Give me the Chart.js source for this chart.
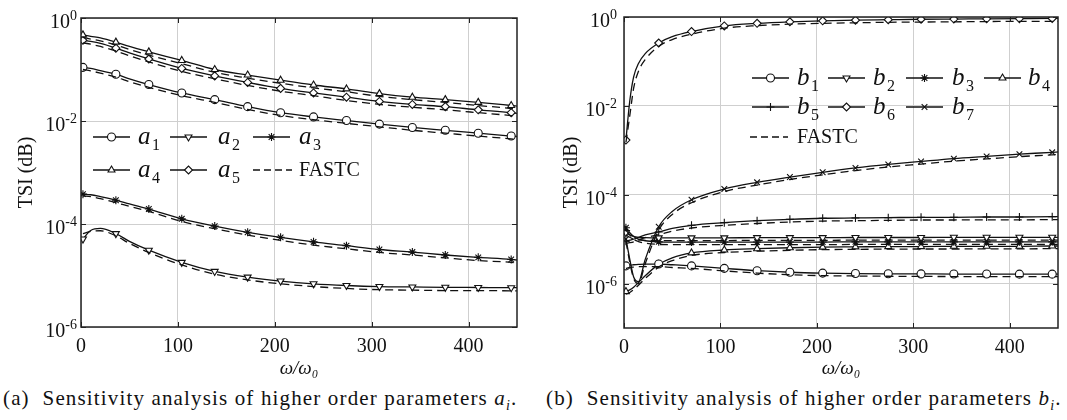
<!DOCTYPE html>
<html>
<head>
<meta charset="utf-8">
<script src="https://cdn.jsdelivr.net/npm/chart.js@4.4.0/dist/chart.umd.min.js"></script>
<style>
  body { margin: 0; background: #fff; width: 1067px; height: 420px; overflow: hidden; position: relative; font-family: 'Liberation Serif', serif; }
  .panel { position: absolute; top: 0; height: 380px; }
  #boxA { left: 0; width: 533px; }
  #boxB { left: 533px; width: 534px; }
  .cap { position: absolute; top: 386px; font-size: 21px; letter-spacing: 1.15px; white-space: nowrap; color: #111; }
  .cap i sub { font-size: 14px; }
</style>
</head>
<body>
<div class="panel" id="boxA"><canvas id="chartA"></canvas></div>
<div class="panel" id="boxB"><canvas id="chartB"></canvas></div>
<div class="cap" style="left:3px">(a)&nbsp; Sensitivity analysis of higher order parameters <i>a<sub>i</sub></i>.</div>
<div class="cap" style="left:546px">(b)&nbsp; Sensitivity analysis of higher order parameters <i>b<sub>i</sub></i>.</div>
<script>
// x positions (omega / omega0)
const xsA = [2, 10, 20, 36, 50, 70, 104, 138, 172, 206, 240, 274, 308, 342, 376, 410, 444, 450];
const xsB = [2, 6, 10, 15, 22, 36, 50, 70, 104, 138, 172, 206, 240, 274, 308, 342, 376, 410, 444, 450];
const markX = [2, 36, 70, 104, 138, 172, 206, 240, 274, 308, 342, 376, 410, 444];

const xTicks = [0, 100, 200, 300, 400];
const xTickLabels = ['0', '100', '200', '300', '400'];
const yTicks = [1e-6, 1e-4, 1e-2, 1];
const yTickExp = ['-6', '-4', '-2', '0'];

// (a) higher order parameters a_i : solid = reference, dashed = FASTC
const a1 = [0.11, 0.105, 0.095, 0.081, 0.066, 0.051, 0.035, 0.026, 0.019, 0.0145, 0.012, 0.0102, 0.0087, 0.0075, 0.0066, 0.0058, 0.0051, 0.005];
const a1F = [0.1, 0.094, 0.085, 0.071, 0.058, 0.045, 0.031, 0.023, 0.0168, 0.0128, 0.0106, 0.009, 0.0077, 0.0066, 0.0058, 0.0051, 0.0045, 0.0044];
const a2 = [5.1e-5, 7.5e-5, 8.2e-5, 6.5e-5, 4.6e-5, 3.1e-5, 1.8e-5, 1.2e-5, 9.3e-6, 7.8e-6, 6.9e-6, 6.4e-6, 6.1e-6, 6.0e-6, 5.9e-6, 5.85e-6, 5.8e-6, 5.8e-6];
const a2F = [6.5e-5, 7.2e-5, 7.4e-5, 5.9e-5, 4.2e-5, 2.8e-5, 1.6e-5, 1.06e-5, 8.2e-6, 6.9e-6, 6.1e-6, 5.6e-6, 5.3e-6, 5.2e-6, 5.1e-6, 5.1e-6, 5.05e-6, 5.05e-6];
const a3 = [3.8e-4, 3.7e-4, 3.4e-4, 2.9e-4, 2.45e-4, 1.95e-4, 1.26e-4, 9.1e-5, 6.9e-5, 5.5e-5, 4.5e-5, 3.8e-5, 3.2e-5, 2.85e-5, 2.5e-5, 2.25e-5, 2.05e-5, 2.0e-5];
const a3F = [3.5e-4, 3.4e-4, 3.1e-4, 2.6e-4, 2.2e-4, 1.75e-4, 1.12e-4, 8.1e-5, 6.1e-5, 4.8e-5, 3.9e-5, 3.3e-5, 2.8e-5, 2.5e-5, 2.2e-5, 1.95e-5, 1.8e-5, 1.75e-5];
const a4 = [0.47, 0.44, 0.41, 0.34, 0.28, 0.22, 0.15, 0.10, 0.078, 0.062, 0.05, 0.042, 0.034, 0.029, 0.026, 0.023, 0.020, 0.0195];
const a4F = [0.42, 0.39, 0.36, 0.30, 0.245, 0.19, 0.13, 0.088, 0.068, 0.054, 0.044, 0.037, 0.03, 0.026, 0.023, 0.020, 0.0175, 0.017];
const a5 = [0.37, 0.35, 0.32, 0.26, 0.21, 0.16, 0.105, 0.075, 0.056, 0.043, 0.035, 0.029, 0.024, 0.021, 0.019, 0.0165, 0.0145, 0.014];
const a5F = [0.33, 0.31, 0.28, 0.23, 0.185, 0.14, 0.092, 0.066, 0.049, 0.038, 0.031, 0.025, 0.021, 0.0185, 0.0165, 0.0145, 0.0127, 0.0123];

// (b) higher order parameters b_i
const b1 = [2.5e-6, 2.6e-6, 2.65e-6, 2.7e-6, 2.75e-6, 2.75e-6, 2.65e-6, 2.5e-6, 2.2e-6, 1.95e-6, 1.8e-6, 1.72e-6, 1.68e-6, 1.66e-6, 1.65e-6, 1.64e-6, 1.64e-6, 1.63e-6, 1.63e-6, 1.63e-6];
const b1F = [2.2e-6, 2.3e-6, 2.35e-6, 2.4e-6, 2.4e-6, 2.4e-6, 2.3e-6, 2.2e-6, 1.93e-6, 1.72e-6, 1.58e-6, 1.51e-6, 1.48e-6, 1.46e-6, 1.45e-6, 1.44e-6, 1.44e-6, 1.43e-6, 1.43e-6, 1.43e-6];
const b2 = [1.4e-5, 1.25e-5, 1.15e-5, 1.1e-5, 1.08e-5, 1.07e-5, 1.07e-5, 1.07e-5, 1.07e-5, 1.08e-5, 1.08e-5, 1.08e-5, 1.09e-5, 1.09e-5, 1.09e-5, 1.1e-5, 1.1e-5, 1.1e-5, 1.1e-5, 1.1e-5];
const b2F = [1.25e-5, 1.1e-5, 1.0e-5, 9.6e-6, 9.4e-6, 9.3e-6, 9.3e-6, 9.3e-6, 9.3e-6, 9.4e-6, 9.4e-6, 9.4e-6, 9.5e-6, 9.5e-6, 9.5e-6, 9.5e-6, 9.5e-6, 9.5e-6, 9.5e-6, 9.5e-6];
const b3 = [1.8e-5, 1.4e-5, 1.15e-5, 1.0e-5, 9.2e-6, 8.7e-6, 8.6e-6, 8.6e-6, 8.6e-6, 8.6e-6, 8.6e-6, 8.6e-6, 8.7e-6, 8.7e-6, 8.7e-6, 8.7e-6, 8.7e-6, 8.7e-6, 8.7e-6, 8.7e-6];
const b3F = [1.6e-5, 1.25e-5, 1.0e-5, 8.8e-6, 8.1e-6, 7.6e-6, 7.5e-6, 7.5e-6, 7.5e-6, 7.5e-6, 7.5e-6, 7.5e-6, 7.6e-6, 7.6e-6, 7.6e-6, 7.6e-6, 7.6e-6, 7.6e-6, 7.6e-6, 7.6e-6];
const b4 = [6.6e-7, 7.2e-7, 8.3e-7, 1.05e-6, 1.5e-6, 2.7e-6, 3.8e-6, 4.9e-6, 5.7e-6, 6.1e-6, 6.4e-6, 6.6e-6, 6.7e-6, 6.8e-6, 6.8e-6, 6.9e-6, 6.9e-6, 6.9e-6, 7.0e-6, 7.0e-6];
const b4F = [5.8e-7, 6.3e-7, 7.3e-7, 9.2e-7, 1.3e-6, 2.35e-6, 3.3e-6, 4.3e-6, 5.0e-6, 5.35e-6, 5.6e-6, 5.8e-6, 5.9e-6, 5.95e-6, 6.0e-6, 6.0e-6, 6.05e-6, 6.05e-6, 6.1e-6, 6.1e-6];
const b5 = [9e-6, 9.5e-6, 1.0e-5, 1.1e-5, 1.25e-5, 1.45e-5, 1.75e-5, 2.05e-5, 2.35e-5, 2.6e-5, 2.8e-5, 2.95e-5, 3.0e-5, 3.05e-5, 3.1e-5, 3.1e-5, 3.15e-5, 3.15e-5, 3.2e-5, 3.2e-5];
const b5F = [8e-6, 8.3e-6, 8.7e-6, 9.5e-6, 1.08e-5, 1.26e-5, 1.52e-5, 1.78e-5, 2.05e-5, 2.25e-5, 2.43e-5, 2.55e-5, 2.6e-5, 2.65e-5, 2.7e-5, 2.7e-5, 2.72e-5, 2.72e-5, 2.75e-5, 2.75e-5];
const b6 = [1.7e-3, 0.013, 0.045, 0.09, 0.15, 0.26, 0.36, 0.47, 0.63, 0.72, 0.78, 0.82, 0.85, 0.87, 0.89, 0.9, 0.91, 0.92, 0.93, 0.93];
const b6F = [1.5e-3, 0.006, 0.025, 0.06, 0.11, 0.22, 0.31, 0.41, 0.56, 0.64, 0.69, 0.72, 0.74, 0.76, 0.77, 0.78, 0.79, 0.8, 0.8, 0.8];
const b7 = [1.0e-5, 3.5e-6, 1.4e-6, 1.1e-6, 3.5e-6, 1.9e-5, 4.2e-5, 7.7e-5, 1.35e-4, 1.9e-4, 2.5e-4, 3.2e-4, 4.0e-4, 4.8e-4, 5.6e-4, 6.5e-4, 7.3e-4, 8.2e-4, 9.0e-4, 9.2e-4];
const b7F = [9e-6, 3e-6, 1.3e-6, 1.0e-6, 2.8e-6, 1.6e-5, 3.6e-5, 6.6e-5, 1.18e-4, 1.65e-4, 2.2e-4, 2.8e-4, 3.5e-4, 4.2e-4, 4.9e-4, 5.7e-4, 6.4e-4, 7.2e-4, 7.9e-4, 8.0e-4];

const markers = {
  circle: { pointStyle: 'circle', rotation: 0 },
  tdown: { pointStyle: 'triangle', rotation: 180 },
  star: { pointStyle: 'star', rotation: 0 },
  tup: { pointStyle: 'triangle', rotation: 0 },
  diamond: { pointStyle: 'rectRot', rotation: 0 },
  plus: { pointStyle: 'cross', rotation: 0 },
  cross: { pointStyle: 'crossRot', rotation: 0 }
};

const seriesA = [
  { name: 'a', sub: '1', y: a1, f: a1F, m: 'circle' },
  { name: 'a', sub: '2', y: a2, f: a2F, m: 'tdown' },
  { name: 'a', sub: '3', y: a3, f: a3F, m: 'star' },
  { name: 'a', sub: '4', y: a4, f: a4F, m: 'tup' },
  { name: 'a', sub: '5', y: a5, f: a5F, m: 'diamond' }
];
const seriesB = [
  { name: 'b', sub: '1', y: b1, f: b1F, m: 'circle' },
  { name: 'b', sub: '2', y: b2, f: b2F, m: 'tdown' },
  { name: 'b', sub: '3', y: b3, f: b3F, m: 'star' },
  { name: 'b', sub: '4', y: b4, f: b4F, m: 'tup' },
  { name: 'b', sub: '5', y: b5, f: b5F, m: 'plus' },
  { name: 'b', sub: '6', y: b6, f: b6F, m: 'diamond' },
  { name: 'b', sub: '7', y: b7, f: b7F, m: 'cross' }
];

const DASH = [8, 5];
const MR = 4;
const SERIF = '"Liberation Serif", "Times New Roman", serif';

function buildSets(xs, series) {
  const sets = [];
  series.forEach(s => {
    sets.push({
      data: xs.map((x, i) => ({ x: x, y: s.f[i] })),
      borderColor: '#111', borderWidth: 1.3, borderDash: DASH,
      pointRadius: 0, cubicInterpolationMode: 'monotone'
    });
  });
  series.forEach(s => {
    const mk = markers[s.m];
    sets.push({
      data: xs.map((x, i) => ({ x: x, y: s.y[i] })),
      borderColor: '#111', borderWidth: 1.3,
      backgroundColor: '#fff',
      pointStyle: mk.pointStyle, rotation: mk.rotation,
      pointRadius: c => markX.includes(xs[c.dataIndex]) ? MR : 0,
      pointBorderWidth: 1.1, pointBorderColor: '#111', pointBackgroundColor: '#fff',
      cubicInterpolationMode: 'monotone'
    });
  });
  return sets;
}

const framePlugin = {
  id: 'frame',
  afterDraw(chart, args, opts) {
    const ctx = chart.ctx;
    const a = chart.chartArea;
    const xs = chart.scales.x, ys = chart.scales.y;
    ctx.save();
    ctx.strokeStyle = '#222';
    ctx.lineWidth = 1.5;
    ctx.strokeRect(a.left, a.top, a.right - a.left, a.bottom - a.top);
    ctx.lineWidth = 1;
    ctx.beginPath();
    xTicks.forEach(v => {
      const px = Math.round(xs.getPixelForValue(v)) + 0.5;
      ctx.moveTo(px, a.bottom); ctx.lineTo(px, a.bottom - 5);
      ctx.moveTo(px, a.top); ctx.lineTo(px, a.top + 5);
    });
    yTicks.forEach(v => {
      const py = Math.round(ys.getPixelForValue(v)) + 0.5;
      ctx.moveTo(a.left, py); ctx.lineTo(a.left + 5, py);
      ctx.moveTo(a.right, py); ctx.lineTo(a.right - 5, py);
    });
    ctx.stroke();

    // y tick labels as 10 with raised exponent
    ctx.fillStyle = '#111';
    ctx.textBaseline = 'alphabetic';
    ctx.textAlign = 'right';
    yTicks.forEach((v, i) => {
      const py = ys.getPixelForValue(v);
      const right = a.left - opts.labGap;
      ctx.font = '14px ' + SERIF;
      const ew = ctx.measureText(yTickExp[i]).width;
      ctx.fillText(yTickExp[i], right, py + 2);
      ctx.font = '20px ' + SERIF;
      ctx.fillText('10', right - ew, py + 10);
    });
    ctx.textAlign = 'left';

    // legend
    ctx.textBaseline = 'middle';
    opts.items.forEach(it => {
      ctx.strokeStyle = '#111';
      ctx.lineWidth = 1.3;
      ctx.setLineDash(it.dashed ? [7, 4] : []);
      ctx.beginPath();
      ctx.moveTo(it.x0, it.y); ctx.lineTo(it.x1, it.y);
      ctx.stroke();
      ctx.setLineDash([]);
      if (it.s) {
        const mk = markers[it.s.m];
        ctx.fillStyle = '#fff';
        ctx.lineWidth = 1.1;
        Chart.helpers.drawPoint(ctx, { pointStyle: mk.pointStyle, rotation: mk.rotation, radius: MR, borderWidth: 1.1 }, (it.x0 + it.x1) / 2, it.y);
        ctx.fillStyle = '#111';
        ctx.font = 'italic 25px ' + SERIF;
        ctx.fillText(it.s.name, it.tx, it.y);
        ctx.font = '16px ' + SERIF;
        ctx.fillText(it.s.sub, it.tx + 14, it.y + 9);
      } else {
        ctx.fillStyle = '#111';
        ctx.font = '20px ' + SERIF;
        ctx.fillText('FASTC', it.tx, it.y + 1);
      }
    });
    ctx.restore();
  }
};

function makeChart(id, xs, series, yMin, pad, yWidth, xHeight, labGap, items) {
  new Chart(document.getElementById(id), {
    type: 'line',
    data: { datasets: buildSets(xs, series) },
    plugins: [framePlugin],
    options: {
      responsive: true,
      maintainAspectRatio: false,
      animation: false,
      layout: { padding: pad },
      plugins: {
        legend: { display: false },
        tooltip: { enabled: false },
        frame: { items: items, labGap: labGap }
      },
      scales: {
        x: {
          type: 'linear', min: 0, max: 450,
          afterBuildTicks: s => { s.ticks = xTicks.map(v => ({ value: v })); },
          afterFit: s => { s.height = xHeight; },
          ticks: { callback: (v, i) => xTickLabels[i], color: '#111', padding: 8, maxRotation: 0,
            font: { family: SERIF, size: 20 } },
          grid: { color: '#cfcfcf', lineWidth: 1, drawTicks: false },
          border: { display: false },
          title: { display: true, text: 'ω/ω₀', color: '#111', padding: { top: 0, bottom: 0 },
            font: { family: SERIF, size: 19, style: 'italic' } }
        },
        y: {
          type: 'logarithmic', min: yMin, max: 1,
          afterBuildTicks: s => { s.ticks = yTicks.map(v => ({ value: v })); },
          afterFit: s => { s.width = yWidth; },
          ticks: { display: false },
          grid: { color: '#cfcfcf', lineWidth: 1, drawTicks: false },
          border: { display: false },
          title: { display: true, text: 'TSI (dB)', color: '#111', padding: { top: 0, bottom: 0 },
            font: { family: SERIF, size: 20 } }
        }
      }
    }
  });
}

function legendItem(s, x0, y, tx) { return { s: s, x0: x0, x1: x0 + 37, y: y, tx: tx }; }

const itemsA = [
  legendItem(seriesA[0], 93, 137, 138),
  legendItem(seriesA[1], 170, 137, 218),
  legendItem(seriesA[2], 253, 137, 299),
  legendItem(seriesA[3], 93, 170, 138),
  legendItem(seriesA[4], 170, 170, 218),
  { dashed: true, x0: 253, x1: 292, y: 170, tx: 299 }
];
const itemsB = [
  legendItem(seriesB[0], 219, 78, 264),
  legendItem(seriesB[1], 295, 78, 340),
  legendItem(seriesB[2], 373, 78, 419),
  legendItem(seriesB[3], 451, 78, 495),
  legendItem(seriesB[4], 219, 107, 264),
  legendItem(seriesB[5], 295, 107, 340),
  legendItem(seriesB[6], 373, 107, 419),
  { dashed: true, x0: 217, x1: 255, y: 137, tx: 264 }
];

makeChart('chartA', xsA, seriesA, 1e-6, { left: 15, right: 16, top: 18, bottom: 0 }, 66, 53, 4, itemsA);
makeChart('chartB', xsB, seriesB, 1e-7, { left: 27, right: 9, top: 17, bottom: 0 }, 64, 52, 7, itemsB);
</script>
</body>
</html>
